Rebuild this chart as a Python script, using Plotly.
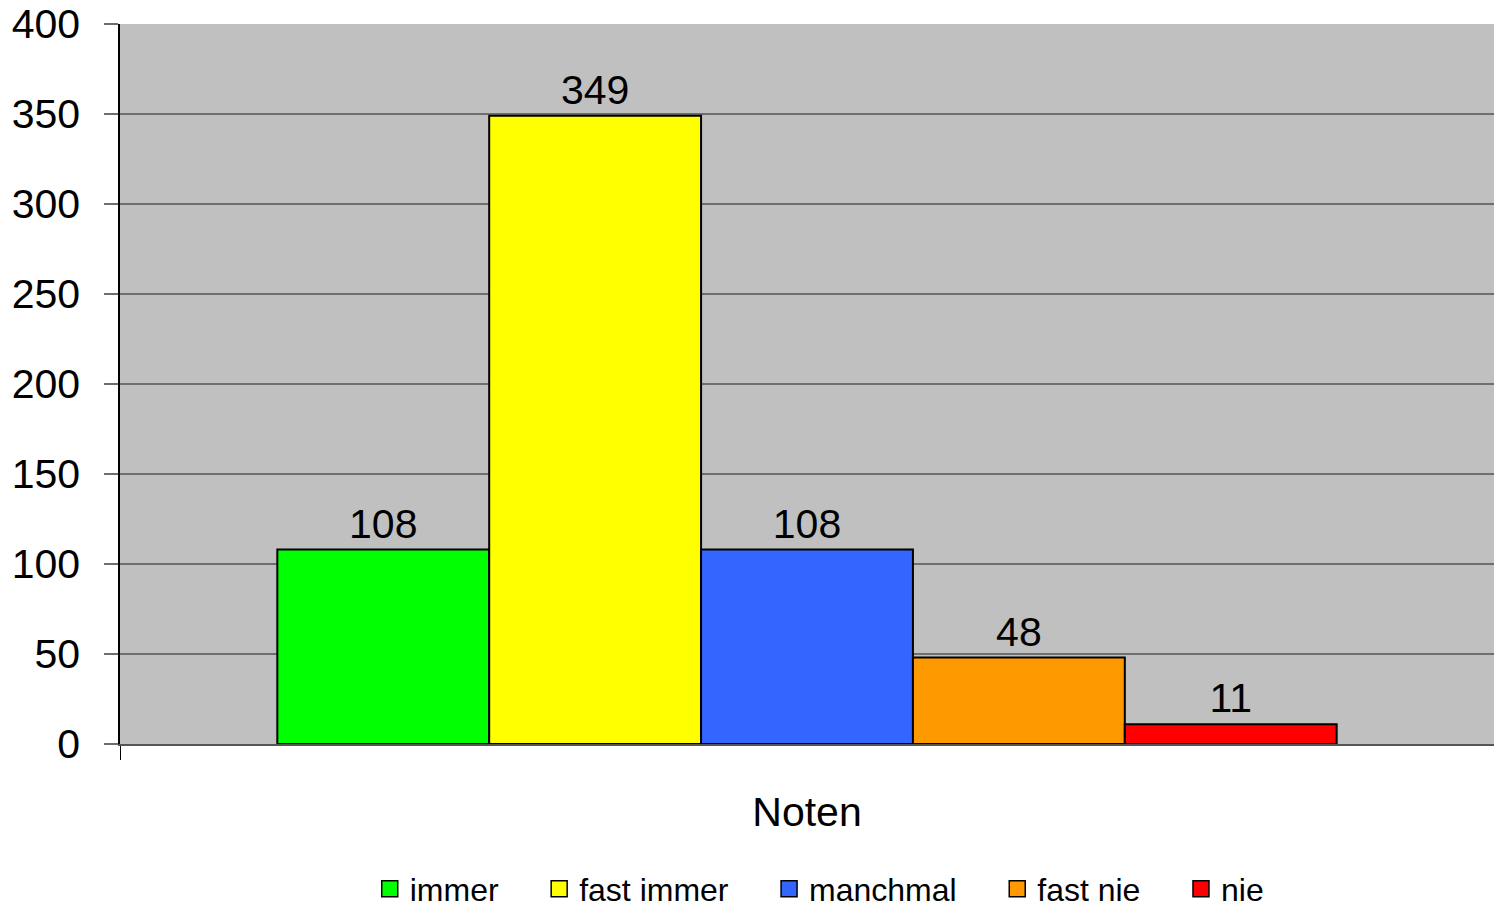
import plotly.graph_objects as go

kategorie = ["Noten"]
antworten = ["immer", "fast immer", "manchmal", "fast nie", "nie"]
anzahl = [108, 349, 108, 48, 11]
farben = ["#00FF00", "#FFFF00", "#3366FF", "#FF9900", "#FF0000"]

y_ticks = [0, 50, 100, 150, 200, 250, 300, 350, 400]

fig = go.Figure()
for name, wert, farbe in zip(antworten, anzahl, farben):
    fig.add_trace(go.Bar(
        x=kategorie, y=[wert], name=name, showlegend=False,
        marker=dict(color=farbe, line=dict(color="black", width=2)),
        text=[wert], textposition="outside", cliponaxis=False,
        textfont=dict(size=41, color="black"),
    ))

# legend entries with larger square symbols
for name, farbe in zip(antworten, farben):
    fig.add_trace(go.Scatter(
        x=[None], y=[None], mode="markers",
        name=name + "\u00a0\u00a0\u00a0\u00a0",
        marker=dict(symbol="square", size=18, color=farbe,
                    line=dict(color="black", width=1.5)),
    ))

fig.update_layout(
    width=1494, height=908,
    barmode="group", bargap=0.229, bargroupgap=0,
    paper_bgcolor="white", plot_bgcolor="#C0C0C0",
    font=dict(family="Liberation Sans, Arial", color="black"),
    margin=dict(l=120, r=0, t=24, b=164, autoexpand=False),
    showlegend=True,
    legend=dict(orientation="h", x=0.522, xanchor="center", y=-0.163, yanchor="top",
                font=dict(size=32), itemwidth=30, traceorder="normal",
                itemsizing="trace"),
    uniformtext=dict(minsize=41, mode="show"),
)
fig.update_yaxes(
    range=[0, 400], tickvals=y_ticks, tickfont=dict(size=41),
    showgrid=True, gridcolor="#6E6E6E", gridwidth=1.5,
    showline=True, linecolor="black", linewidth=1.5,
    ticks="outside", ticklen=14, tickcolor="#6E6E6E", tickwidth=1.5,
    ticklabelstandoff=16, ticklabeloverflow="allow",
    zeroline=False, automargin=False,
)
fig.update_xaxes(
    showticklabels=False, showline=True, linecolor="#555555", linewidth=2,
    ticks="outside", tickson="boundaries", ticklen=14, tickcolor="black", tickwidth=1,
    title=dict(text="Noten", font=dict(size=41), standoff=52),
    automargin=False,
)

# drop the default page margin so the figure fills the window exactly
fig.write_html("out.html", config={"displayModeBar": False},
               post_script="document.body.style.margin='0';"
               "document.body.style.overflow='hidden';")
